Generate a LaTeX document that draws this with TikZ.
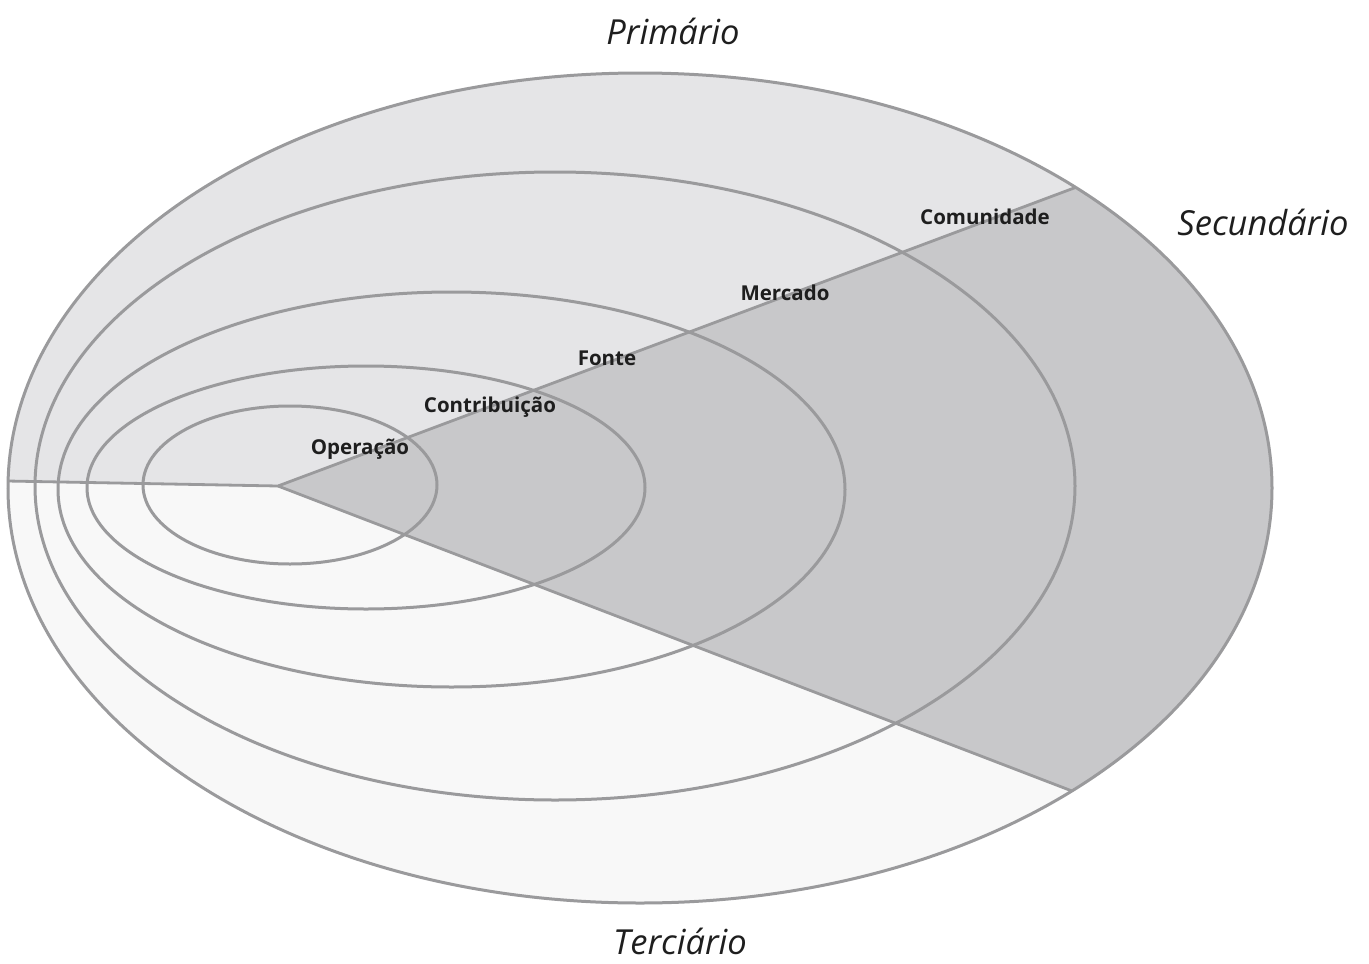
\documentclass[tikz,border=0pt]{standalone}
\usepackage{fontspec}
\setmainfont{Open Sans}
\definecolor{upperfill}{HTML}{E5E5E7}
\definecolor{sectorfill}{HTML}{C8C8CA}
\definecolor{lowerfill}{HTML}{F8F8F8}
\definecolor{ringline}{HTML}{9A9A9C}
\definecolor{labeltext}{HTML}{1E1E1E}
\tikzset{
  ring/.style={draw=ringline, line width=3pt},
  ray/.style={draw=ringline, line width=2.8pt, line join=round},
  level/.style={font=\bfseries\fontsize{20.5}{24}\selectfont, text=labeltext, inner sep=0pt},
  zone/.style={font=\itshape\fontsize{34.5}{38}\selectfont, text=labeltext, inner sep=0pt}
}
\begin{document}
\begin{tikzpicture}[x=1pt,y=-1pt]
\useasboundingbox (0,0) rectangle (1369,964);

% apex of the sector and far ends of its rays
\coordinate (apex) at (278,486);
\coordinate (leftend) at (-20,480.5);
\coordinate (upend) at (1400,66);
\coordinate (lowend) at (1400,917);

% regions inside the outer ellipse
\begin{scope}
  \clip (640,488) ellipse [x radius=632, y radius=415];
  \fill[lowerfill] (-20,-20) rectangle (1400,1000);
  \fill[upperfill] (apex) -- (leftend) -- (-20,-20) -- (1400,-20) -- (upend) -- cycle;
  \fill[sectorfill] (apex) -- (upend) -- (lowend) -- cycle;
  \draw[ray] (leftend) -- (apex) -- (upend);
  \draw[ray] (apex) -- (lowend);
\end{scope}

% nested rings
\draw[ring] (640,488) ellipse [x radius=632, y radius=415];
\draw[ring] (555,486) ellipse [x radius=520, y radius=314];
\draw[ring] (451.5,489.5) ellipse [x radius=393.5, y radius=197.5];
\draw[ring] (366,487.5) ellipse [x radius=279, y radius=121.5];
\draw[ring] (290,485) ellipse [x radius=147, y radius=79];

% ring labels
\node[level] (operacao) at (360,449) {Operação};
\node[level] (contribuicao) at (490,407) {Contribuição};
\node[level] (fonte) at (607,358) {Fonte};
\node[level] (mercado) at (785,293) {Mercado};
\node[level] (comunidade) at (985,217) {Comunidade};

% zone labels
\node[zone] (primario) at (673,31) {Primário};
\node[zone] (secundario) at (1263,222) {Secundário};
\node[zone] (terciario) at (680,941) {Terciário};
\end{tikzpicture}
\end{document}
